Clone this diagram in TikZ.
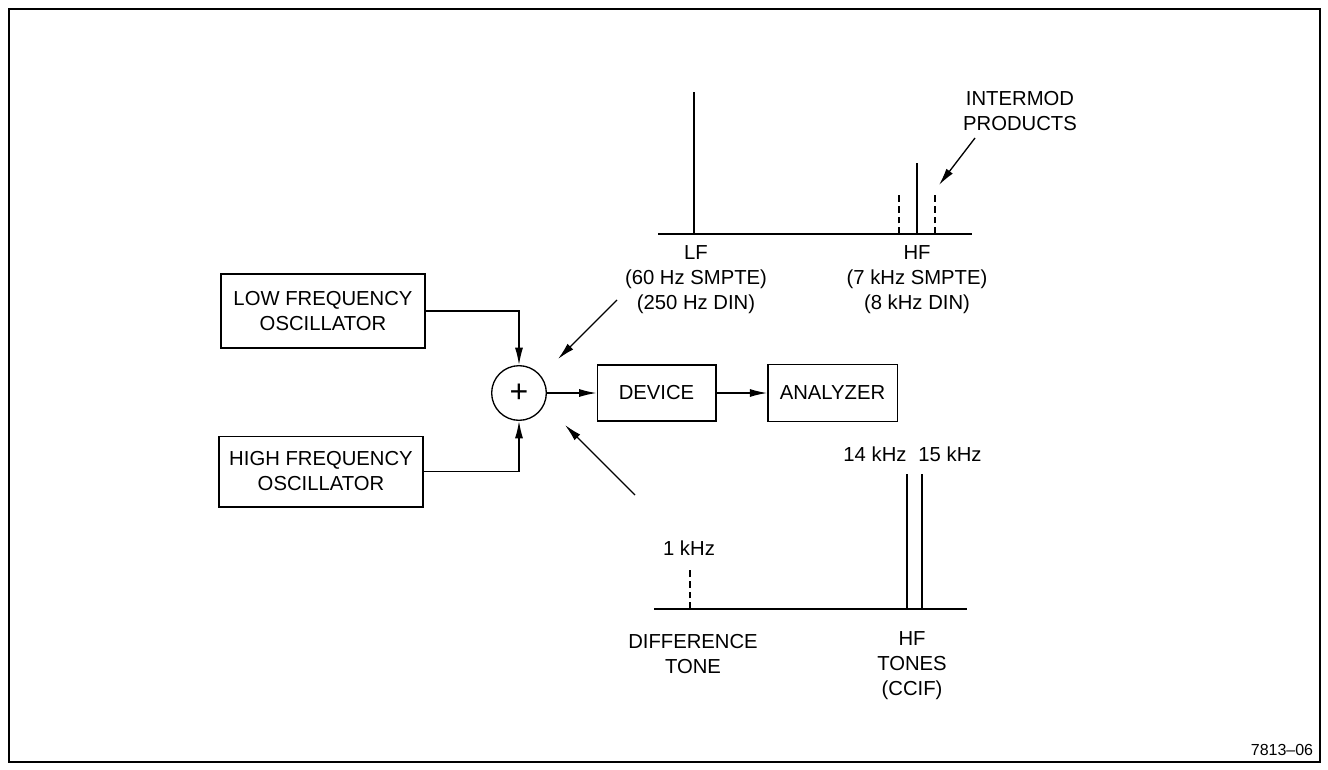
\documentclass[tikz,border=0pt]{standalone}
\usepackage{fontspec}
\setmainfont{Liberation Sans}
\usetikzlibrary{arrows.meta}
\begin{document}
\begin{tikzpicture}[x=0.75pt,y=-0.75pt,
  every node/.style={font=\fontsize{15.2}{18.75}\selectfont, inner sep=0pt, align=center},
  blk/.style={draw, line width=1pt, inner sep=0pt},
  conn/.style={line width=1pt, -{Latex[length=13pt,width=6pt]}},
  spec/.style={line width=1pt},
  dsh/.style={line width=1pt, dash pattern=on 5pt off 3pt},
  frame/.style={line width=2.2pt}]
\useasboundingbox (0,0) rectangle (1328,770);
\draw[frame] (9,9) rectangle (1320,762);

% blocks
\node[blk, minimum width=153pt, minimum height=55.5pt] (lfo) at (323,311) {LOW FREQUENCY\\OSCILLATOR};
\node[blk, minimum width=153pt, minimum height=53pt] (hfo) at (321,471.5) {HIGH FREQUENCY\\OSCILLATOR};
\node[blk, circle, minimum size=41pt, font=\fontsize{24}{24}\selectfont] (sum) at (519,393) {+};
\node[blk, minimum width=89pt, minimum height=42pt] (dev) at (656.5,393) {DEVICE};
\node[blk, minimum width=97pt, minimum height=43pt] (ana) at (832.5,393) {ANALYZER};

\draw[conn] (lfo.east) -| (sum.north);
\draw[conn] (hfo.east) -| (sum.south);
\draw[conn] (sum.east) -- (dev.west);
\draw[conn] (dev.east) -- (ana.west);

% diagonal pointers
\coordinate (ua) at (617,300);
\coordinate (ub) at (558,359);
\draw[conn] (ua) -- (ub);
\coordinate (la) at (635,495);
\coordinate (lb) at (565,425);
\draw[conn] (la) -- (lb);

% upper spectrum
\draw[spec] (658,234) -- (972,234);
\draw[spec] (694,234) -- (694,92);
\draw[spec] (917,234) -- (917,163);
\draw[dsh] (899,234) -- (899,192);
\draw[dsh] (935,234) -- (935,192);
\node (lflab) at (696,280) {LF\\(60 Hz SMPTE)\\(250 Hz DIN)};
\node (hflab) at (917,280) {HF\\(7 kHz SMPTE)\\(8 kHz DIN)};
\node (imlab) at (1020,111) {INTERMOD\\PRODUCTS};
\coordinate (ia) at (975,138);
\coordinate (ib) at (939,185);
\draw[conn] (ia) -- (ib);

% lower spectrum
\draw[spec] (654,609) -- (967,609);
\draw[dsh] (690,609) -- (690,567);
\draw[spec] (907,609) -- (907,474);
\draw[spec] (922,609) -- (922,474);
\node (k1) at (689,548) {1 kHz};
\node (k14) at (875,454) {14 kHz};
\node (k15) at (950,454) {15 kHz};
\node (dt) at (693,654) {DIFFERENCE\\TONE};
\node (hft) at (912,666) {HF\\TONES\\(CCIF)};

\node[font=\fontsize{12}{14}\selectfont] (fig) at (1282,750) {7813--06};
\end{tikzpicture}
\end{document}
